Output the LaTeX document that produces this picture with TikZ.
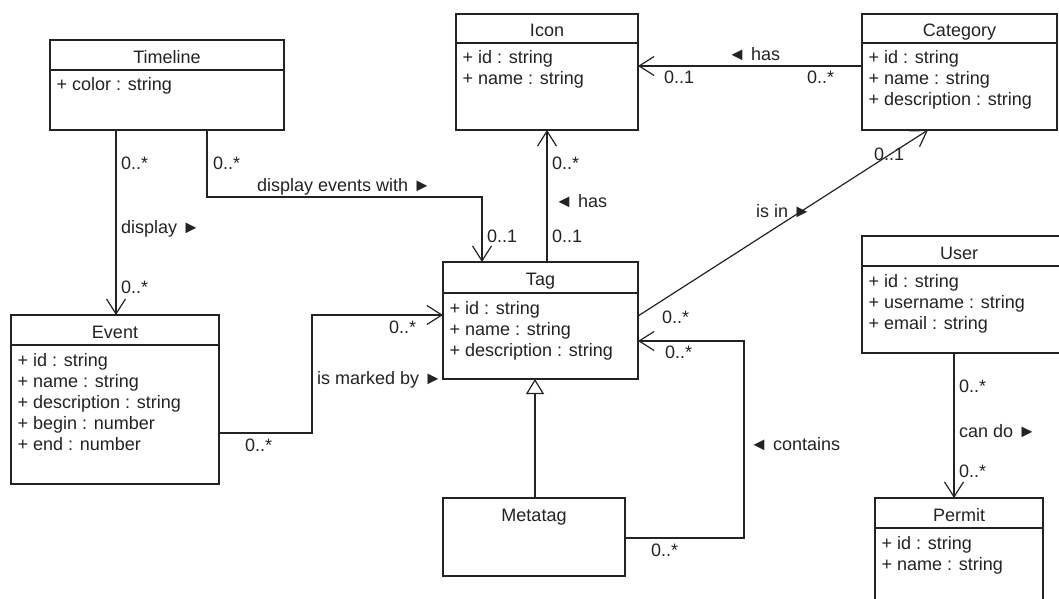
\documentclass[tikz,border=0pt]{standalone}
\usepackage{fontspec}
\setmainfont{Liberation Sans}
\usetikzlibrary{arrows.meta,calc}
\definecolor{umlc}{RGB}{35,35,35}
\newcommand\umlfont{\fontsize{18}{21}\selectfont}
\begin{document}
\begin{tikzpicture}[x=1pt,y=-1pt,
  box/.style={draw=umlc, line width=1.2pt, fill=white, anchor=north west, inner sep=0pt, outer sep=0pt},
  ttl/.style={anchor=base, inner sep=0pt, text=umlc, font=\umlfont},
  txt/.style={anchor=base west, inner sep=0pt, text=umlc, font=\umlfont},
  link/.style={draw=umlc, line width=1.2pt},
  assoc/.style={link, -{Straight Barb[length=15pt,width=19pt,line width=1.2pt]}},
  gen/.style={link, -{Triangle[open,length=15pt,width=18pt,fill=white,line width=1.2pt]}}
]
\useasboundingbox (0,0) rectangle (1059,599);
\clip (0,0) rectangle (1059,599);

% ---------- classes ----------
% Timeline
\node[box, minimum width=234pt, minimum height=90pt] (timeline) at (50,40) {};
\draw[link] ($(timeline.north west)+(0,30)$) -- ($(timeline.north east)+(0,30)$);
\node[ttl] (timeline-t) at ($(timeline.north)+(0,23.5)$) {Timeline};
\foreach \t [count=\i] in {+ color : string}
  \node[txt] (timeline-a\i) at ($(timeline.north west)+(6.5,{30+21*\i})$) {\t};

% Icon
\node[box, minimum width=182pt, minimum height=116pt] (icon) at (456,14) {};
\draw[link] ($(icon.north west)+(0,29)$) -- ($(icon.north east)+(0,29)$);
\node[ttl] (icon-t) at ($(icon.north)+(0,23)$) {Icon};
\foreach \t [count=\i] in {+ id : string, + name : string}
  \node[txt] (icon-a\i) at ($(icon.north west)+(6.5,{29+21*\i})$) {\t};

% Category
\node[box, minimum width=195pt, minimum height=116pt] (category) at (862,14) {};
\draw[link] ($(category.north west)+(0,29)$) -- ($(category.north east)+(0,29)$);
\node[ttl] (category-t) at ($(category.north)+(0,23)$) {Category};
\foreach \t [count=\i] in {+ id : string, + name : string, + description : string}
  \node[txt] (category-a\i) at ($(category.north west)+(6.5,{29+21*\i})$) {\t};

% Tag
\node[box, minimum width=195pt, minimum height=117pt] (tag) at (443,262) {};
\draw[link] ($(tag.north west)+(0,31)$) -- ($(tag.north east)+(0,31)$);
\node[ttl] (tag-t) at ($(tag.north)+(0,23.5)$) {Tag};
\foreach \t [count=\i] in {+ id : string, + name : string, + description : string}
  \node[txt] (tag-a\i) at ($(tag.north west)+(6.5,{31+21*\i})$) {\t};

% Event
\node[box, minimum width=208pt, minimum height=169pt] (event) at (11,315) {};
\draw[link] ($(event.north west)+(0,30)$) -- ($(event.north east)+(0,30)$);
\node[ttl] (event-t) at ($(event.north)+(0,23.5)$) {Event};
\foreach \t [count=\i] in {+ id : string, + name : string, + description : string, + begin : number, + end : number}
  \node[txt] (event-a\i) at ($(event.north west)+(6.5,{30+21*\i})$) {\t};

% Metatag
\node[box, minimum width=182pt, minimum height=78pt] (metatag) at (443,498) {};
\node[ttl] (metatag-t) at ($(metatag.north)+(0,23.5)$) {Metatag};

% User
\node[box, minimum width=215pt, minimum height=117pt] (user) at (862,236) {};
\draw[link] ($(user.north west)+(0,30)$) -- ($(user.north east)+(0,30)$);
\node[ttl] (user-t) at ($(user.north west)+(97,23.5)$) {User};
\foreach \t [count=\i] in {+ id : string, + username : string, + email : string}
  \node[txt] (user-a\i) at ($(user.north west)+(6.5,{30+21*\i})$) {\t};

% Permit
\node[box, minimum width=168pt, minimum height=130pt] (permit) at (875,498) {};
\draw[link] ($(permit.north west)+(0,30)$) -- ($(permit.north east)+(0,30)$);
\node[ttl] (permit-t) at ($(permit.north)+(0,23.5)$) {Permit};
\foreach \t [count=\i] in {+ id : string, + name : string}
  \node[txt] (permit-a\i) at ($(permit.north west)+(6.5,{30+21*\i})$) {\t};

% ---------- connectors ----------
\draw[assoc] ($(timeline.south west)+(66,0)$) -- ($(event.north west)+(105,0)$);
\draw[assoc] ($(timeline.south west)+(157,0)$) -- ++(0,67) -| ($(tag.north west)+(39,0)$);
\draw[assoc] ($(category.north west)+(0,52)$) -- ($(icon.north east)+(0,52)$);
\draw[assoc] ($(tag.north west)+(104,0)$) -- ($(icon.south west)+(91,0)$);
\draw[assoc] ($(tag.north east)+(0,54)$) -- ($(category.south west)+(66,0)$);
\draw[assoc] ($(event.north east)+(0,118)$) -- ++(93,0) |- ($(tag.north west)+(0,53)$);
\draw[assoc] ($(metatag.north east)+(0,40)$) -- ++(119,0) |- ($(tag.north east)+(0,79)$);
\draw[gen] ($(metatag.north west)+(92,0)$) -- ($(tag.south west)+(92,0)$);
\draw[assoc] ($(user.south west)+(92,0)$) -- ($(permit.north west)+(79,0)$);

% ---------- labels ----------
\node[txt] (l1) at (121,169) {0..*};
\node[txt] (l2) at (121,233) {display ►};
\node[txt] (l3) at (121,293) {0..*};
\node[txt] (l4) at (213,169) {0..*};
\node[txt] (l5) at (257,191) {display events with ►};
\node[txt] (l6) at (728,61) {◄ has};
\node[txt] (l7) at (664,84) {0..1};
\node[txt] (l8) at (807,84) {0..*};
\node[txt] (l9) at (552,169) {0..*};
\node[txt] (l10) at (555,207) {◄ has};
\node[txt] (l11) at (552,242) {0..1};
\node[txt] (l12) at (487,242) {0..1};
\node[txt] (l13) at (874,160) {0..1};
\node[txt] (l14) at (756,217) {is in ►};
\node[txt] (l15) at (662,323) {0..*};
\node[txt] (l16) at (665,358) {0..*};
\node[txt] (l17) at (750,450) {◄ contains};
\node[txt] (l18) at (651,556) {0..*};
\node[txt] (l19) at (959,392) {0..*};
\node[txt] (l20) at (959,437) {can do ►};
\node[txt] (l21) at (959,477) {0..*};
\node[txt] (l22) at (317,384) {is marked by ►};
\node[txt] (l23) at (389,333) {0..*};
\node[txt] (l24) at (245,451) {0..*};
\end{tikzpicture}
\end{document}
